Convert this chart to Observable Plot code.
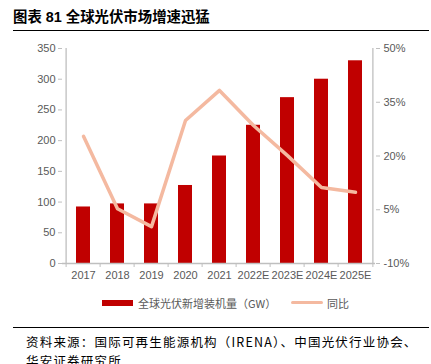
<!DOCTYPE html>
<html><head><meta charset="utf-8">
<script src="https://cdn.jsdelivr.net/npm/d3@7"></script>
<script src="https://cdn.jsdelivr.net/npm/@observablehq/plot@0.6"></script>
<style>
body{margin:0;background:#fff;}
#wrap{position:relative;width:431px;height:364px;overflow:hidden;font-family:"Liberation Sans",Arial,"Noto Sans CJK SC",sans-serif;}
#title{position:absolute;left:13px;top:5px;font-size:14.4px;font-weight:bold;color:#000;font-family:"Liberation Sans","Noto Sans CJK SC",sans-serif;}
#tline{position:absolute;left:13px;top:30px;width:416px;height:1px;background:#000;}
#fline{position:absolute;left:13px;top:327px;width:416px;height:1px;background:#000;}
#foot{position:absolute;left:26px;top:332px;font-size:12.5px;letter-spacing:1.2px;line-height:19px;color:#000;font-family:"Noto Sans CJK SC",sans-serif;white-space:nowrap;}
#legend{position:absolute;top:295px;left:0;width:431px;font-size:11px;color:#595959;font-family:"Noto Sans CJK SC",sans-serif;}
.sw{position:absolute;}
.lt{position:absolute;top:0;line-height:16px;}
#chart{position:absolute;left:0;top:0;}
</style></head>
<body><div id="wrap">
<div id="chart"></div>
<div id="title">图表 81 全球光伏市场增速迅猛</div>
<div id="tline"></div>
<div id="legend">
  <div class="sw" style="left:102px;top:5px;width:31px;height:6px;background:#c00000"></div>
  <div class="lt" style="left:138px">全球光伏新增装机量（GW）</div>
  <div class="sw" style="left:291px;top:6px;width:32px;height:3px;background:#f4b9a0;border-radius:2px"></div>
  <div class="lt" style="left:327px">同比</div>
</div>
<div id="fline"></div>
<div id="foot">资料来源：国际可再生能源机构（IRENA）、中国光伏行业协会、<br>华安证券研究所</div>
</div>
<script>
const years = ["2017","2018","2019","2020","2021","2022E","2023E","2024E","2025E"];
const installs = [92, 97, 97, 127, 175, 225, 270, 300, 330];
const growth = [25.5, 5.3, 0.3, 29.9, 38.3, 28.5, 20.1, 11.2, 9.9];
const leftTicks = [0,50,100,150,200,250,300,350];
const rightTicks = [-10,5,20,35,50];

const toLeft = p => (p + 10) / 60 * 350;
const bars = years.map((y,i)=>({year:y, v:installs[i]}));
const line = years.map((y,i)=>({year:y, p:growth[i]}));
const half = 313/9/2;
const axisColor = "#bfbfbf";

const chart = Plot.plot({
  width: 431, height: 364,
  marginTop: 48, marginBottom: 101, marginLeft: 62, marginRight: 56,
  style: {fontFamily: "'Liberation Sans', Arial, sans-serif", fontSize: "11px", background: "transparent"},
  x: {type: "band", domain: years, paddingInner: 0.6, paddingOuter: 0.3},
  y: {domain: [0, 350]},
  marks: [
    Plot.barY(bars, {x: "year", y: "v", fill: "#c00000"}),
    Plot.line(line, {x: "year", y: d => toLeft(d.p), stroke: "#f4b9a0", strokeWidth: 3.5, strokeLinejoin: "round", strokeLinecap: "round"}),
    Plot.ruleY([0], {stroke: axisColor, strokeWidth: 1.3}),
    Plot.ruleX([years[0]], {x: d => d, y1: 0, y2: 350, dx: -half, stroke: axisColor, strokeWidth: 1.3}),
    Plot.ruleX([years[years.length-1]], {x: d => d, y1: 0, y2: 350, dx: half, stroke: axisColor, strokeWidth: 1.3}),
    Plot.ruleX(years, {x: d => d, y1: 0, y2: 0, insetBottom: -4, dx: -half, stroke: axisColor}),
    Plot.ruleX([years[years.length-1]], {x: d => d, y1: 0, y2: 0, insetBottom: -4, dx: half, stroke: axisColor}),
    Plot.axisX({anchor: "bottom", tickSize: 0, tickPadding: 8, fill: "#595959", label: null}),
    Plot.axisY({anchor: "left", ticks: leftTicks, tickSize: 4, tickPadding: 3, stroke: axisColor, fill: "#595959", label: null}),
    Plot.axisY({anchor: "right", ticks: rightTicks.map(toLeft), tickFormat: v => Math.round(v/350*60 - 10) + "%", tickSize: 4, tickPadding: 4, stroke: axisColor, fill: "#595959", label: null})
  ]
});
document.getElementById("chart").appendChild(chart);
</script>
</body></html>
